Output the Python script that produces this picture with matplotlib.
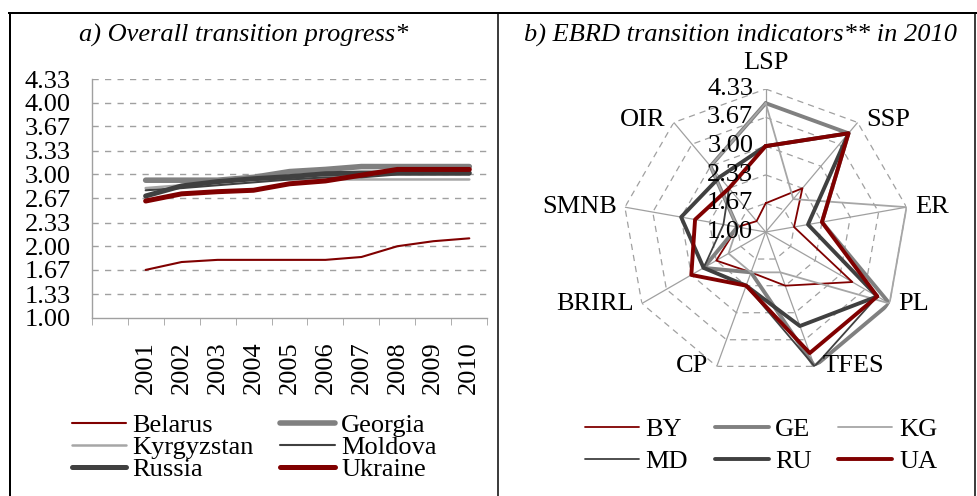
import numpy as np
import matplotlib
matplotlib.use("Agg")
import matplotlib.pyplot as plt
from matplotlib.lines import Line2D

plt.rcParams["font.family"] = ["Liberation Serif", "DejaVu Serif"]
plt.rcParams["font.size"] = 19

# a) overall transition progress (average of EBRD indicators)
years = ["2001", "2002", "2003", "2004", "2005", "2006", "2007", "2008", "2009", "2010"]
belarus = [1.67, 1.78, 1.81, 1.81, 1.81, 1.81, 1.85, 2.00, 2.07, 2.11]
georgia = [2.92, 2.92, 2.92, 2.96, 3.04, 3.07, 3.11, 3.11, 3.11, 3.11]
kyrgyzstan = [2.81, 2.85, 2.89, 2.93, 2.93, 2.93, 2.93, 2.93, 2.93, 2.93]
moldova = [2.78, 2.81, 2.85, 2.89, 2.93, 2.96, 2.96, 3.00, 3.00, 3.00]
russia = [2.70, 2.84, 2.90, 2.94, 2.97, 3.01, 3.02, 3.02, 3.02, 3.02]
ukraine = [2.63, 2.73, 2.76, 2.78, 2.87, 2.91, 2.99, 3.07, 3.07, 3.07]

# b) EBRD transition indicators in 2010
indicators = ["LSP", "SSP", "ER", "PL", "TFES", "CP", "BRIRL", "SMNB", "OIR"]
by = [1.67, 2.33, 1.67, 3.33, 2.33, 2.00, 2.33, 1.67, 1.33]
ge = [4.00, 4.00, 2.33, 4.33, 4.33, 2.00, 2.67, 1.67, 3.00]
kg = [4.00, 2.00, 4.33, 4.33, 2.00, 2.00, 2.00, 1.67, 3.00]
md = [3.00, 4.00, 2.00, 4.00, 4.33, 2.33, 2.67, 2.00, 2.33]
ru = [3.00, 4.00, 2.00, 4.00, 3.33, 2.33, 2.67, 3.00, 2.67]
ua = [3.00, 4.00, 2.33, 4.00, 4.00, 2.33, 3.00, 2.67, 2.33]

levels = [1.00, 1.33, 1.67, 2.00, 2.33, 2.67, 3.00, 3.33, 3.67, 4.00, 4.33]
radar_levels = [1.00, 1.67, 2.33, 3.00, 3.67, 4.33]

DARKRED = "#800000"
GRAY = "#808080"
LIGHTGRAY = "#a6a6a6"
DARK = "#404040"
GRID = "#a0a0a0"

W, H = 977, 496
fig = plt.figure(figsize=(W / 100, H / 100), dpi=100)


def fx(px):
    return px / W


def fy(py):
    return 1 - py / H


# frame around the two panels
for (x0, y0, x1, y1, lw) in [(9, 13, 977, 13, 2.0), (10, 13, 10, 496, 2.0),
                             (498, 13, 498, 496, 1.5), (975, 13, 975, 496, 1.5)]:
    fig.add_artist(Line2D([fx(x0), fx(x1)], [fy(y0), fy(y1)], color="black",
                          lw=lw * 0.72, transform=fig.transFigure))

fig.text(fx(244), fy(35), "a) Overall transition progress*", style="italic",
         ha="center", va="center")
fig.text(fx(741), fy(35), "b) EBRD transition indicators** in 2010", style="italic",
         ha="center", va="center")

# ---- left: line chart
ax = fig.add_axes([fx(91.7), fy(318), fx(487.3) - fx(91.7), fy(79) - fy(318)])
x = np.arange(1, len(years) + 1)
style = dict(solid_capstyle="round", solid_joinstyle="round")
l_by, = ax.plot(x, belarus, color=DARKRED, lw=1.5, label="Belarus", **style)
l_ge, = ax.plot(x, georgia, color=GRAY, lw=4.0, label="Georgia", **style)
l_kg, = ax.plot(x, kyrgyzstan, color=LIGHTGRAY, lw=1.8, label="Kyrgyzstan", **style)
l_md, = ax.plot(x, moldova, color=DARK, lw=1.5, label="Moldova", **style)
l_ru, = ax.plot(x, russia, color=DARK, lw=3.6, label="Russia", **style)
l_ua, = ax.plot(x, ukraine, color=DARKRED, lw=3.6, label="Ukraine", **style)

ax.set_xlim(-0.5, len(years) + 0.5)
ax.set_ylim(1.0, 4.33)
ax.set_yticks(levels)
ax.set_yticklabels([f"{v:.2f}" for v in levels])
ax.set_xticks(x)
ax.set_xticklabels(years, rotation=90, va="top")
ax.set_xticks(np.arange(-0.5, len(years) + 1), minor=True)
ax.tick_params(axis="y", length=0, pad=15)
ax.tick_params(axis="x", which="major", length=0, pad=17)
ax.tick_params(axis="x", which="minor", length=5, color=GRID, direction="out")
for lv in levels[1:]:
    ax.axhline(lv, color=GRID, lw=1.0, ls=(0, (4.5, 4.5)), zorder=0)
for s in ["top", "right"]:
    ax.spines[s].set_visible(False)
for s in ["left", "bottom"]:
    ax.spines[s].set_color(GRID)
    ax.spines[s].set_linewidth(1.0)

fig.legend([l_by, l_kg, l_ru, l_ge, l_md, l_ua],
           ["Belarus", "Kyrgyzstan", "Russia", "Georgia", "Moldova", "Ukraine"],
           ncol=2, loc="upper left", bbox_to_anchor=(fx(72), fy(414)),
           frameon=False, borderpad=0, borderaxespad=0, handlelength=2.05,
           handletextpad=0.25, columnspacing=1.0, labelspacing=-0.06)

# ---- right: radar chart
R = 143
cx, cy = 765.7, 232
pax = fig.add_axes([fx(cx - R), fy(cy + R), fx(2 * R), (2 * R) / H], projection="polar")
pax.set_theta_offset(np.pi / 2)
pax.set_theta_direction(-1)
pax.set_ylim(1.0, 4.33)
pax.grid(False)
pax.spines["polar"].set_visible(False)
pax.set_xticks([])
pax.set_yticks([])
pax.patch.set_alpha(0)

n = len(indicators)
theta = np.arange(n) * 2 * np.pi / n
theta_c = np.append(theta, theta[0])

for lv in radar_levels[1:]:
    pax.plot(theta_c, [lv] * (n + 1), color=GRID, lw=0.9, ls=(0, (5, 4)), zorder=1)
for t in theta:
    pax.plot([t, t], [1.0, 4.33], color=GRID, lw=0.9, zorder=1)


def closed(v):
    return list(v) + [v[0]]


r_by, = pax.plot(theta_c, closed(by), color=DARKRED, lw=1.3, zorder=3, **style)
r_ge, = pax.plot(theta_c, closed(ge), color=GRAY, lw=2.8, zorder=3, **style)
r_kg, = pax.plot(theta_c, closed(kg), color=LIGHTGRAY, lw=1.3, zorder=3, **style)
r_md, = pax.plot(theta_c, closed(md), color=DARK, lw=1.3, zorder=3, **style)
r_ru, = pax.plot(theta_c, closed(ru), color=DARK, lw=2.8, zorder=3, **style)
r_ua, = pax.plot(theta_c, closed(ua), color=DARKRED, lw=2.8, zorder=3, **style)

for lv in radar_levels:
    pax.annotate(f"{lv:.2f}", xy=(0, lv), xytext=(-9, 0), textcoords="offset points",
                 ha="right", va="center", zorder=4)

for t, name in zip(theta, indicators):
    ang = np.degrees(np.pi / 2 - t)  # math angle
    dx, dy = np.cos(np.radians(ang)), np.sin(np.radians(ang))
    if abs(dx) < 0.05:
        ha = "center"
    elif dx > 0:
        ha = "left"
    else:
        ha = "right"
    if name == "LSP":
        off = (0, 19)
    else:
        off = (6 * np.sign(dx), 2 if dy > 0.5 else 0)
    pax.annotate(name, xy=(t, 4.33), xytext=off, textcoords="offset points",
                 ha=ha, va="center", annotation_clip=False)

fig.legend([r_by, r_md, r_ge, r_ru, r_kg, r_ua],
           ["BY", "MD", "GE", "RU", "KG", "UA"],
           ncol=3, loc="upper left", bbox_to_anchor=(fx(585), fy(418)),
           frameon=False, borderpad=0, borderaxespad=0, handlelength=2.05,
           handletextpad=0.25, columnspacing=1.0, labelspacing=0.3)

fig.savefig("out.png", dpi=100)
